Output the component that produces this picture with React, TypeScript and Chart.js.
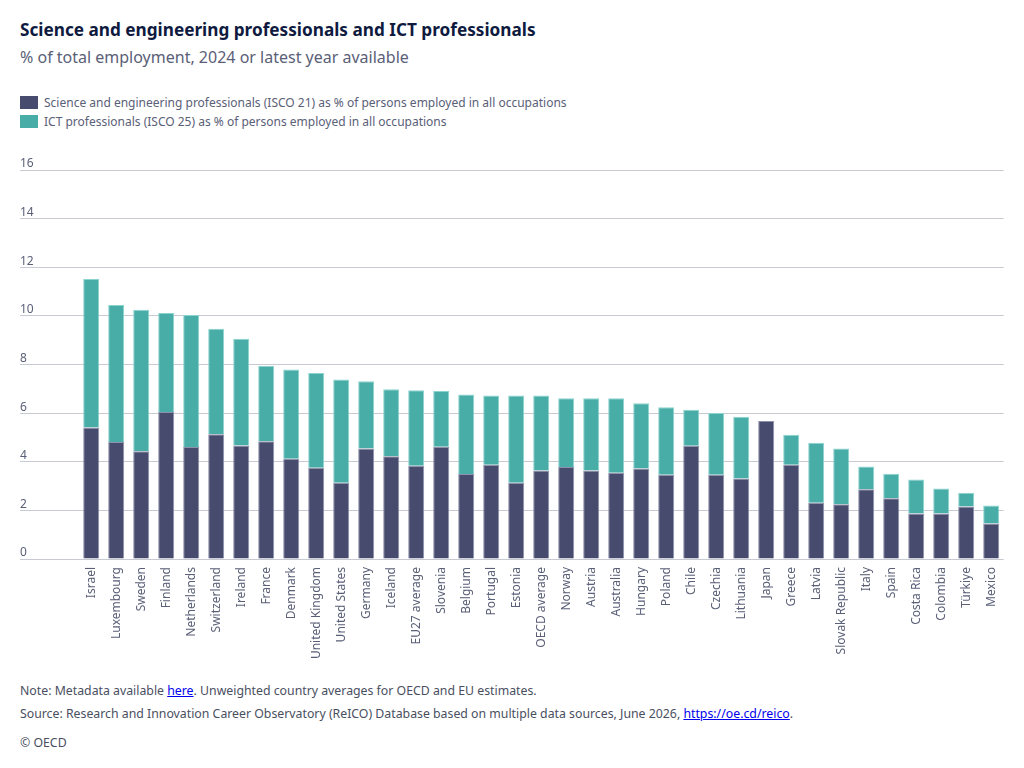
import React, { useEffect, useRef } from "react";
import { Chart, registerables } from "chart.js";

Chart.register(...registerables);

const TITLE = "Science and engineering professionals and ICT professionals";
const SUBTITLE = "% of total employment, 2024 or latest year available";

const countries = [
  "Israel", "Luxembourg", "Sweden", "Finland", "Netherlands", "Switzerland", "Ireland",
  "France", "Denmark", "United Kingdom", "United States", "Germany", "Iceland",
  "EU27 average", "Slovenia", "Belgium", "Portugal", "Estonia", "OECD average", "Norway",
  "Austria", "Australia", "Hungary", "Poland", "Chile", "Czechia", "Lithuania", "Japan",
  "Greece", "Latvia", "Slovak Republic", "Italy", "Spain", "Costa Rica", "Colombia",
  "Türkiye", "Mexico",
];

const scienceEng = [
  5.41, 4.81, 4.43, 6.05, 4.61, 5.13, 4.67, 4.84, 4.12, 3.75, 3.14, 4.54, 4.23,
  3.84, 4.62, 3.5, 3.88, 3.14, 3.64, 3.78, 3.64, 3.55, 3.72, 3.47, 4.66, 3.47,
  3.31, 5.68, 3.88, 2.31, 2.25, 2.87, 2.5, 1.87, 1.87, 2.16, 1.46,
];

const ict = [
  6.11, 5.64, 5.82, 4.07, 5.43, 4.34, 4.39, 3.11, 3.67, 3.9, 4.24, 2.77, 2.75,
  3.1, 2.29, 3.27, 2.85, 3.59, 3.09, 2.83, 2.97, 3.06, 2.69, 2.77, 1.48, 2.54,
  2.54, null, 1.23, 2.47, 2.29, 0.93, 1.01, 1.4, 1.03, 0.57, 0.74,
];

const seriesLabels = [
  "Science and engineering professionals (ISCO 21) as % of persons employed in all occupations",
  "ICT professionals (ISCO 25) as % of persons employed in all occupations",
];
const seriesColors = ["#474b6e", "#48aca7"];
const seriesBorders = ["#8e91ad", "#8ad4cf"];

const yMax = 16;
const yStep = 2;

const FONT = "'Noto Sans', sans-serif";

export default function App() {
  const canvasRef = useRef<HTMLCanvasElement | null>(null);

  useEffect(() => {
    const ctx = canvasRef.current;
    if (!ctx) return;
    const chart = new Chart(ctx, {
      type: "bar",
      data: {
        labels: countries,
        datasets: [
          {
            label: seriesLabels[0],
            data: scienceEng,
            backgroundColor: seriesColors[0],
            borderColor: seriesBorders[0],
            borderWidth: 1,
          },
          {
            label: seriesLabels[1],
            data: ict,
            backgroundColor: seriesColors[1],
            borderColor: seriesBorders[1],
            borderWidth: 1,
          },
        ],
      },
      options: {
        animation: false,
        responsive: false,
        maintainAspectRatio: false,
        layout: { padding: { left: 20, right: 20.3, top: 30, bottom: 0 } },
        datasets: { bar: { barPercentage: 0.64, categoryPercentage: 1 } },
        plugins: {
          legend: { display: false },
          tooltip: { enabled: false },
          title: { display: false },
        },
        scales: {
          x: {
            stacked: true,
            grid: { display: false, drawTicks: false },
            border: { display: false },
            ticks: {
              autoSkip: false,
              minRotation: 90,
              maxRotation: 90,
              padding: 8,
              color: "#5a6077",
              font: { family: FONT, size: 12 },
            },
            afterFit: (scale: any) => {
              scale.height = 105;
            },
          },
          y: {
            stacked: true,
            min: 0,
            max: yMax,
            grid: {
              color: "#c7c9d3",
              lineWidth: 1,
              drawTicks: true,
              tickLength: 58.7,
            },
            border: { display: false },
            ticks: {
              stepSize: yStep,
              crossAlign: "far",
              labelOffset: -6,
              padding: 0,
              color: "#5a6077",
              font: { family: FONT, size: 12 },
            },
            afterFit: (scale: any) => {
              scale.width = 58.7;
            },
          },
        },
      },
    });
    return () => chart.destroy();
  }, []);

  const noteStyle: React.CSSProperties = {
    position: "absolute",
    left: 20,
    fontSize: 12.3,
    color: "#4a4f5f",
    whiteSpace: "nowrap",
  };

  return (
    <div
      style={{
        position: "absolute",
        left: 0,
        top: 0,
        width: 1024,
        height: 768,
        background: "#ffffff",
        fontFamily: FONT,
      }}
    >
      <div
        style={{
          position: "absolute",
          left: 20,
          top: 18,
          fontSize: 17.2,
          fontWeight: 700,
          color: "#0f1a3f",
          whiteSpace: "nowrap",
        }}
      >
        {TITLE}
      </div>
      <div
        style={{
          position: "absolute",
          left: 20,
          top: 46,
          fontSize: 16,
          color: "#5a6077",
          whiteSpace: "nowrap",
        }}
      >
        {SUBTITLE}
      </div>
      <div style={{ position: "absolute", left: 20, top: 93 }}>
        {seriesLabels.map((lab, i) => (
          <div
            key={i}
            style={{ display: "flex", alignItems: "center", height: 19, whiteSpace: "nowrap" }}
          >
            <span
              style={{
                display: "inline-block",
                width: 18,
                height: 13,
                background: seriesColors[i],
                marginRight: 6,
              }}
            />
            <span style={{ fontSize: 12, color: "#5a6077" }}>{lab}</span>
          </div>
        ))}
      </div>
      <canvas
        ref={canvasRef}
        width={1024}
        height={524}
        style={{ position: "absolute", left: 0, top: 140, width: 1024, height: 524 }}
      />
      <div style={{ ...noteStyle, top: 682 }}>
        Note: Metadata available <a href="#" style={{ color: "#0000ee" }}>here</a>. Unweighted country averages for OECD and EU estimates.
      </div>
      <div style={{ ...noteStyle, top: 705 }}>
        Source: Research and Innovation Career Observatory (ReICO) Database based on multiple data sources, June 2026,{" "}
        <a href="#" style={{ color: "#0000ee" }}>https://oe.cd/reico</a>.
      </div>
      <div style={{ ...noteStyle, top: 734 }}>© OECD</div>
    </div>
  );
}
